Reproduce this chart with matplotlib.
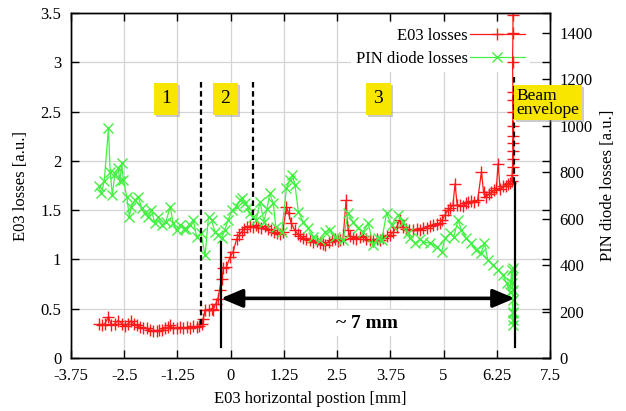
import matplotlib
matplotlib.use("Agg")
import matplotlib.pyplot as plt
from matplotlib.patches import FancyArrowPatch
import matplotlib.patheffects as pe

plt.rcParams['font.family'] = ['Liberation Serif', 'DejaVu Serif']
plt.rcParams['font.size'] = 12

# ---------------- data ----------------
e03_x = [-3.10, -3.02, -2.95, -2.87, -2.80, -2.72, -2.64, -2.56, -2.48, -2.40,
         -2.33, -2.27, -2.21, -2.13, -2.05, -1.97, -1.90, -1.82, -1.74, -1.68,
         -1.62, -1.55, -1.48, -1.42, -1.35, -1.27, -1.19, -1.11, -1.03, -0.95,
         -0.88, -0.80, -0.74, -0.68, -0.64, -0.60, -0.52, -0.45, -0.41, -0.35,
         -0.30, -0.26, -0.21, -0.17, -0.10, -0.02, 0.06, 0.14, 0.20, 0.26,
         0.32, 0.38, 0.45, 0.53, 0.60, 0.65, 0.72, 0.80, 0.88, 0.95,
         1.02, 1.08, 1.15, 1.22, 1.31, 1.36, 1.42, 1.50, 1.57, 1.63,
         1.70, 1.78, 1.86, 1.94, 2.02, 2.10, 2.16, 2.21, 2.30, 2.38,
         2.45, 2.52, 2.57, 2.64, 2.71, 2.76, 2.80, 2.88, 2.95, 3.03,
         3.10, 3.18, 3.27, 3.35, 3.43, 3.50, 3.58, 3.66, 3.75, 3.82,
         3.90, 3.97, 4.04, 4.12, 4.20, 4.29, 4.37, 4.45, 4.52, 4.60,
         4.68, 4.76, 4.84, 4.91, 4.97, 5.03, 5.10, 5.16, 5.22, 5.27,
         5.32, 5.38, 5.45, 5.52, 5.58, 5.65, 5.72, 5.80, 5.89, 5.94,
         6.00, 6.06, 6.12, 6.18, 6.24, 6.28, 6.33, 6.40, 6.46, 6.52,
         6.57, 6.60, 6.61, 6.62, 6.62, 6.63, 6.62, 6.63, 6.62, 6.63,
         6.62, 6.63, 6.62, 6.63, 6.63]
e03_y = [0.34, 0.33, 0.35, 0.42, 0.33, 0.35, 0.38, 0.35, 0.32, 0.35,
         0.38, 0.34, 0.33, 0.31, 0.30, 0.30, 0.28, 0.27, 0.27, 0.28,
         0.28, 0.30, 0.31, 0.33, 0.30, 0.30, 0.31, 0.30, 0.31, 0.30,
         0.32, 0.31, 0.32, 0.34, 0.40, 0.49, 0.49, 0.50, 0.49, 0.55,
         0.60, 0.69, 0.80, 0.91, 0.92, 1.02, 1.08, 1.21, 1.25, 1.28,
         1.31, 1.33, 1.34, 1.33, 1.35, 1.33, 1.32, 1.34, 1.31, 1.30,
         1.28, 1.27, 1.26, 1.28, 1.53, 1.47, 1.37, 1.30, 1.26, 1.24,
         1.22, 1.21, 1.20, 1.18, 1.19, 1.17, 1.16, 1.15, 1.18, 1.20,
         1.21, 1.19, 1.20, 1.21, 1.60, 1.30, 1.24, 1.22, 1.21, 1.23,
         1.24, 1.21, 1.20, 1.19, 1.21, 1.20, 1.22, 1.24, 1.25, 1.28,
         1.33, 1.40, 1.33, 1.31, 1.30, 1.30, 1.31, 1.30, 1.32, 1.32,
         1.34, 1.35, 1.36, 1.37, 1.40, 1.45, 1.50, 1.52, 1.55, 1.77,
         1.55, 1.55, 1.54, 1.57, 1.58, 1.59, 1.58, 1.60, 1.89, 1.68,
         1.63, 1.66, 1.68, 1.70, 1.72, 1.97, 1.71, 1.74, 1.75, 1.77,
         1.78, 1.80, 1.86, 1.94, 2.02, 2.10, 2.18, 2.25, 2.35, 2.50,
         2.62, 2.70, 3.00, 3.30, 3.48]

pin_x = [-3.10, -3.04, -2.97, -2.87, -2.83, -2.78, -2.72, -2.64, -2.60, -2.56,
         -2.52, -2.44, -2.38, -2.33, -2.25, -2.17, -2.09, -2.01, -1.93, -1.86,
         -1.78, -1.70, -1.62, -1.52, -1.42, -1.35, -1.27, -1.18, -1.10, -1.04,
         -0.96, -0.88, -0.80, -0.70, -0.60, -0.52, -0.45, -0.37, -0.29, -0.21,
         -0.14, -0.06, 0.04, 0.14, 0.22, 0.26, 0.33, 0.40, 0.45, 0.53,
         0.60, 0.69, 0.78, 0.85, 0.92, 1.00, 1.06, 1.20, 1.31, 1.39,
         1.45, 1.51, 1.59, 1.70, 1.82, 1.94, 2.10, 2.22, 2.33, 2.45,
         2.64, 2.76, 2.87, 2.99, 3.11, 3.23, 3.35, 3.45, 3.55, 3.66,
         3.78, 3.93, 4.05, 4.17, 4.21, 4.33, 4.45, 4.52, 4.68, 4.84,
         4.96, 5.03, 5.15, 5.24, 5.34, 5.42, 5.53, 5.65, 5.77, 5.88,
         5.96, 6.04, 6.16, 6.28, 6.40, 6.48, 6.56, 6.60, 6.61, 6.62,
         6.62, 6.63, 6.62, 6.63, 6.62, 6.63]
pin_y = [740, 708, 760, 988, 801, 701, 790, 816, 760, 837,
         765, 694, 608, 651, 679, 694, 644, 622, 608, 636,
         579, 608, 572, 587, 651, 579, 550, 572, 557, 557,
         572, 594, 522, 536, 443, 608, 594, 543, 529, 515,
         550, 594, 636, 651, 679, 687, 665, 651, 622, 608,
         594, 672, 586, 640, 708, 665, 565, 543, 730, 765,
         787, 745, 629, 586, 558, 522, 507, 543, 550, 522,
         507, 622, 586, 558, 543, 579, 486, 515, 507, 622,
         572, 615, 586, 536, 515, 493, 510, 500, 493, 479,
         457, 515, 536, 522, 593, 551, 515, 493, 464, 450,
         493, 421, 400, 378, 357, 321, 285, 378, 321, 292,
         250, 193, 163, 142, 200, 387]

x_ticks = [-3.75, -2.5, -1.25, 0, 1.25, 2.5, 3.75, 5, 6.25, 7.5]
x_tick_labels = ['-3.75', '-2.5', '-1.25', '0', '1.25', '2.5', '3.75', '5', '6.25', '7.5']
y_ticks = [0, 0.5, 1, 1.5, 2, 2.5, 3, 3.5]
y_tick_labels = ['0', '0.5', '1', '1.5', '2', '2.5', '3', '3.5']
y2_ticks = [0, 200, 400, 600, 800, 1000, 1200, 1400]
y2_tick_labels = ['0', '200', '400', '600', '800', '1000', '1200', '1400']

region_labels = ['1', '2', '3']
region_label_x = [-1.52, -0.12, 3.47]

# ---------------- figure ----------------
fig = plt.figure(figsize=(6.26, 4.11), dpi=100)
ax = fig.add_axes([71/626, 1-358/411, 479/626, 345/411])
ax2 = ax.twinx()

ax.set_xlim(-3.75, 7.5)
ax.set_ylim(0, 3.5)
ax2.set_ylim(0, 1484)

ax.grid(True, color='#d4d4d4', linewidth=0.9)
ax.set_axisbelow(True)

l1, = ax.plot(e03_x, e03_y, color='#ff1a1a', lw=0.9, marker='+', ms=9, mew=1.0,
              label='E03 losses', zorder=3)
l2, = ax2.plot(pin_x, pin_y, color='#44f044', lw=0.9, marker='x', ms=7, mew=1.0,
               label='PIN diode losses')

ax.set_xticks(x_ticks)
ax.set_xticklabels(x_tick_labels)
ax.set_yticks(y_ticks)
ax.set_yticklabels(y_tick_labels)
ax2.set_yticks(y2_ticks)
ax2.set_yticklabels(y2_tick_labels)

ax.tick_params(axis='both', direction='in', length=6, width=1, pad=7,
               top=True, right=True, labelright=False)
ax2.tick_params(axis='y', direction='in', length=6, width=1, pad=7)
for s in list(ax.spines.values()) + list(ax2.spines.values()):
    s.set_linewidth(1.0)

ax.set_xlabel('E03 horizontal postion [mm]', labelpad=5)
ax.set_ylabel('E03 losses [a.u.]', labelpad=8)
ax2.set_ylabel('PIN diode losses [a.u.]', labelpad=5)

# legend sits under the data (white box over the grid only)
leg = ax.legend(handles=[l1, l2], loc='upper right', bbox_to_anchor=(0.975, 0.995),
                markerfirst=False, frameon=True, fancybox=False, framealpha=1,
                facecolor='white', edgecolor='none', handlelength=3.3,
                handletextpad=0.1, labelspacing=0.4, borderpad=0.3,
                fontsize=12)
leg.set_zorder(2)

# ---------------- annotations (drawn above data) ----------------
T = ax.transData
kw_d = dict(color='black', lw=1.6, linestyle=(0, (2.5, 1.6)), transform=T, zorder=5)
ax2.plot([-0.70, -0.70], [2.80, 0.33], **kw_d)
ax2.plot([0.53, 0.53], [2.80, 1.40], **kw_d)
ax2.plot([6.66, 6.66], [2.85, 1.78], **kw_d)
ax2.plot([-0.23, -0.23], [1.18, 0.115], color='black', lw=1.6, transform=T, zorder=5)
ax2.plot([6.67, 6.67], [1.78, 0.11], color='black', lw=1.6, transform=T, zorder=5)

arr = FancyArrowPatch((-0.23, 0.605), (6.67, 0.605), transform=T,
                      arrowstyle='<|-|>,head_length=1.3,head_width=0.55',
                      mutation_scale=10, lw=2.6, color='black',
                      shrinkA=0, shrinkB=0, zorder=6)
ax2.add_patch(arr)

ax2.text(3.21, 0.355, '~ 7 mm', transform=T, ha='center', va='center',
         fontsize=14, fontweight='bold', zorder=6,
         bbox=dict(boxstyle='square,pad=0.25', fc='white', ec='none'))

yellow = '#f8e600'
shadow = [pe.withSimplePatchShadow(offset=(1.5, -1.5), shadow_rgbFace='0.6', alpha=0.5)]
for lab, xv in zip(region_labels, region_label_x):
    t = ax2.text(xv, 2.63, lab, transform=T, ha='center', va='center',
                 fontsize=14, zorder=7,
                 bbox=dict(boxstyle='square,pad=0.38', fc=yellow, ec='none'))
    t.get_bbox_patch().set_path_effects(shadow)

tb = ax2.text(6.71, 2.59, 'Beam\nenvelope', transform=T, ha='left', va='center',
              fontsize=12.5, linespacing=0.85, zorder=7, clip_on=False,
              bbox=dict(boxstyle='square,pad=0.14', fc=yellow, ec='none'))
tb.get_bbox_patch().set_path_effects(shadow)

fig.savefig('out.png', dpi=100)
